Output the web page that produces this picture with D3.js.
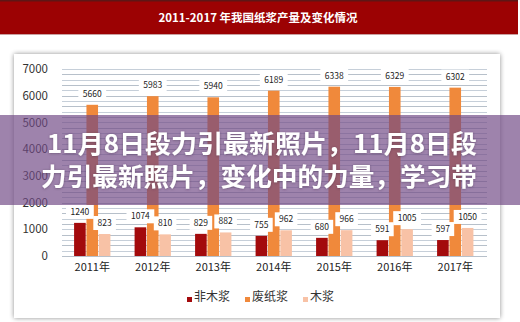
<!DOCTYPE html>
<html>
<head>
<meta charset="utf-8">
<script src="https://cdn.jsdelivr.net/npm/d3@7"></script>
<style>
  html, body { margin: 0; padding: 0; background: #ffffff; }
  svg { display: block; }
  text { font-family: "Noto Sans CJK SC", "Open Sans", sans-serif; }
</style>
</head>
<body>
<svg id="chart" width="520" height="322"></svg>
<script>
// Pulp output by type, 2011–2017 (万吨)
const years = ["2011年", "2012年", "2013年", "2014年", "2015年", "2016年", "2017年"];
const seriesNames = ["非木浆", "废纸浆", "木浆"];
const nonWood = [1240, 1074, 829, 755, 680, 591, 597];
const wastePaper = [5660, 5983, 5940, 6189, 6338, 6329, 6302];
const wood = [823, 810, 882, 962, 966, 1005, 1050];
const yTicks = [0, 1000, 2000, 3000, 4000, 5000, 6000, 7000];
const title = "2011-2017 年我国纸浆产量及变化情况";
const captionLines = ["11月8日段力引最新照片，11月8日段", "力引最新照片，变化中的力量，学习带"];

const colors = ["#a30a0c", "#f0893b", "#f8c2a6"];
const seriesValues = [nonWood, wastePaper, wood];

const svg = d3.select("#chart");

// Page header banner
svg.append("rect").attr("x", 0).attr("y", 0).attr("width", 518).attr("height", 35).attr("fill", "#9c0203");
svg.append("rect").attr("x", 0).attr("y", 0).attr("width", 518).attr("height", 1.5).attr("fill", "#5e1616");
svg.append("rect").attr("x", 0).attr("y", 34).attr("width", 518).attr("height", 1).attr("fill", "#c9a0a0");
svg.append("text")
  .attr("x", 258).attr("y", 21.5)
  .attr("text-anchor", "middle")
  .attr("fill", "#ffffff")
  .attr("font-size", 11.5)
  .attr("font-weight", "bold")
  .text(title);

// Card with soft shadow
const defs = svg.append("defs");
const f = defs.append("filter").attr("id", "shadow").attr("x", "-5%").attr("y", "-5%").attr("width", "110%").attr("height", "110%");
f.append("feGaussianBlur").attr("in", "SourceAlpha").attr("stdDeviation", 2.5);
f.append("feOffset").attr("dx", 0).attr("dy", 0).attr("result", "b");
f.append("feComponentTransfer").append("feFuncA").attr("type", "linear").attr("slope", 0.45);
const fm = f.append("feMerge");
fm.append("feMergeNode");
fm.append("feMergeNode").attr("in", "SourceGraphic");

svg.append("rect")
  .attr("x", 14).attr("y", 54).attr("width", 486).attr("height", 264)
  .attr("fill", "#ffffff")
  .attr("filter", "url(#shadow)");

// Scales
const x0 = d3.scaleBand().domain(years).range([62, 485.5]).paddingInner(0).paddingOuter(0);
const y = d3.scaleLinear().domain([0, 7000]).range([256, 69]);
const barW = 12.6;
const x1 = d3.scaleBand().domain(seriesNames).range([-barW * 1.5, barW * 1.5]).padding(0.06);

// Dense horizontal grid (every 200)
const minor = d3.range(0, 7001, 200);
svg.append("g").selectAll("line").data(minor).join("line")
  .attr("x1", 62).attr("x2", 487)
  .attr("y1", d => Math.round(y(d)) + 0.5).attr("y2", d => Math.round(y(d)) + 0.5)
  .attr("stroke", (d, i) => i % 2 ? "#c6cfd9" : "#b7c0ca")
  .attr("stroke-width", 1);

// Y axis labels
const yAxis = d3.axisLeft(y).tickValues(yTicks).tickSize(0).tickPadding(0).tickFormat(d3.format("d"));
const gy = svg.append("g").attr("transform", "translate(48,0)").call(yAxis);
gy.select(".domain").remove();
gy.selectAll("text").attr("font-size", 11.5).attr("fill", "#333333").attr("font-family", "\"Open Sans\", \"Noto Sans\", sans-serif");

// X axis labels
const xAxis = d3.axisBottom(x0).tickSize(0).tickPadding(0);
const gx = svg.append("g").attr("transform", "translate(0,262)").call(xAxis);
gx.select(".domain").remove();
gx.selectAll("text").attr("font-size", 11).attr("fill", "#222222").attr("dy", "0.85em");

// Bars
const groups = svg.append("g").selectAll("g").data(years).join("g")
  .attr("transform", d => `translate(${x0(d) + x0.bandwidth() / 2},0)`);

seriesNames.forEach((name, s) => {
  groups.append("rect")
    .attr("x", x1(name))
    .attr("width", x1.bandwidth())
    .attr("y", (d, i) => y(seriesValues[s][i]))
    .attr("height", (d, i) => y(0) - y(seriesValues[s][i]))
    .attr("fill", colors[s]);
});

// Value labels on white tags
seriesNames.forEach((name, s) => {
  const lab = groups.append("g")
    .attr("transform", (d, i) => `translate(${x1(name) + x1.bandwidth() / 2},${y(seriesValues[s][i]) - 11})`);
  lab.append("rect")
    .attr("x", (d, i) => -(String(seriesValues[s][i]).length * 2.6 + 3.5))
    .attr("y", -7).attr("height", 14)
    .attr("width", (d, i) => String(seriesValues[s][i]).length * 5.2 + 7)
    .attr("fill", "#ffffff");
  lab.append("text")
    .attr("text-anchor", "middle").attr("dy", "0.35em")
    .attr("font-size", 8.5).attr("fill", "#222222")
    .attr("font-family", "\"Open Sans\", \"Noto Sans\", sans-serif")
    .text((d, i) => seriesValues[s][i]);
});

// Legend
const legendX = [187, 245, 303];
const legend = svg.append("g").selectAll("g").data(seriesNames).join("g")
  .attr("transform", (d, i) => `translate(${legendX[i]},297)`);
legend.append("rect").attr("x", 0).attr("y", 0).attr("width", 5).attr("height", 5)
  .attr("fill", (d, i) => colors[i]);
legend.append("text").attr("x", 7).attr("y", 3).attr("dy", "0.1em")
  .attr("font-size", 12).attr("fill", "#333333").text(d => d);

// Caption band across the chart
svg.append("rect").attr("x", 0).attr("y", 115).attr("width", 520).attr("height", 90)
  .attr("fill", "rgb(112,72,132)").attr("opacity", 0.68);
const cap = defs.append("filter").attr("id", "capShadow");
cap.append("feDropShadow").attr("dx", 0).attr("dy", 0.5).attr("stdDeviation", 0.8).attr("flood-color", "#3a2a40").attr("flood-opacity", 0.5);
svg.append("g").attr("filter", "url(#capShadow)").selectAll("text").data(captionLines).join("text")
  .attr("x", (d, i) => i === 0 ? 47 : 41)
  .attr("y", (d, i) => 153 + i * 33)
  .attr("textLength", (d, i) => i === 0 ? 430 : 436)
  .attr("lengthAdjust", "spacingAndGlyphs")
  .attr("font-size", 25)
  .attr("font-weight", "bold")
  .attr("fill", "#ffffff")
  .text(d => d);
</script>
</body>
</html>
